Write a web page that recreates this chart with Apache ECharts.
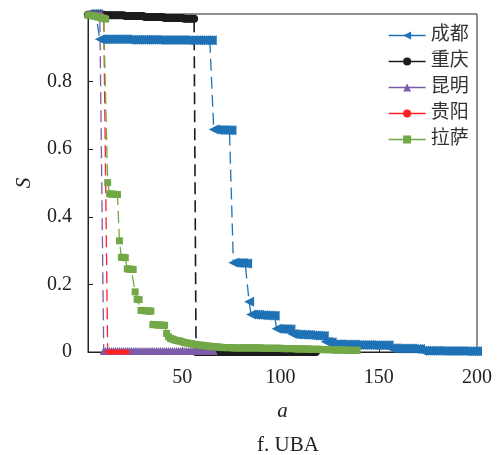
<!DOCTYPE html>
<html>
<head>
<meta charset="utf-8">
<script src="https://cdn.jsdelivr.net/npm/echarts@6/dist/echarts.min.js"></script>
<style>
  html, body { margin: 0; padding: 0; background: #fff; }
  #chart { width: 501px; height: 455px; }
</style>
</head>
<body>
<div id="chart"></div>
<script>
// Connectivity S of the largest component against attack step a (UBA strategy)
const cities = ['成都', '重庆', '昆明', '贵阳', '拉萨'];
const xTicks = [50, 100, 150, 200];
const yTicks = [0, 0.2, 0.4, 0.6, 0.8];

// each series is sampled at consecutive integer steps starting from its first step
const firstStep = 2;

const chengdu = [
  1, 1, 1, 1, 1, 1,
  0.925, 0.925, 0.925, 0.925, 0.925, 0.925, 0.925, 0.925, 0.925, 0.925, 0.925, 0.925, 0.925, 0.925, 0.925,
  0.924, 0.924, 0.924, 0.924, 0.924, 0.924, 0.924, 0.924, 0.924, 0.924, 0.924, 0.924, 0.924, 0.924, 0.924,
  0.923, 0.923, 0.923, 0.923, 0.923, 0.923, 0.923, 0.923, 0.923, 0.923, 0.923, 0.923, 0.923, 0.923,
  0.922, 0.922, 0.922, 0.922, 0.922, 0.922, 0.922, 0.922, 0.922, 0.922, 0.922, 0.922, 0.922, 0.922,
  0.658, 0.658, 0.657, 0.657, 0.657, 0.657, 0.657, 0.656, 0.656, 0.656,
  0.264, 0.264, 0.263, 0.263, 0.263, 0.263, 0.262, 0.262,
  0.149,
  0.111, 0.111, 0.110, 0.110, 0.110, 0.109, 0.109, 0.109, 0.108, 0.108, 0.108, 0.107, 0.107,
  0.069, 0.069, 0.068, 0.068, 0.068, 0.068, 0.067, 0.067,
  0.053, 0.053, 0.052, 0.052, 0.052, 0.051, 0.051, 0.051, 0.050, 0.050, 0.049, 0.049, 0.049, 0.048, 0.048, 0.047, 0.047,
  0.030, 0.030, 0.029, 0.029,
  0.023, 0.023, 0.023, 0.023, 0.023, 0.022, 0.022, 0.022, 0.022, 0.022, 0.022, 0.022, 0.021, 0.021, 0.021,
  0.021, 0.021, 0.021, 0.021, 0.021, 0.020, 0.020, 0.020, 0.020, 0.020, 0.020, 0.020, 0.020, 0.020,
  0.011, 0.011, 0.011, 0.011, 0.010, 0.010, 0.010, 0.010, 0.010, 0.010, 0.010, 0.010, 0.009, 0.009, 0.009, 0.009,
  0.004, 0.004, 0.004, 0.004, 0.004, 0.004, 0.004, 0.004, 0.004, 0.004, 0.003, 0.003, 0.003, 0.003, 0.003,
  0.003, 0.003, 0.003, 0.003, 0.003, 0.003, 0.003, 0.002, 0.002, 0.002, 0.002, 0.002, 0.002, 0.002
];

const chongqing = [
  0.998, 0.998, 0.998, 0.998, 0.998, 0.998, 0.998, 0.998, 0.998,
  0.996, 0.996, 0.996, 0.996, 0.996, 0.996, 0.996, 0.996, 0.996, 0.996,
  0.994, 0.994, 0.994, 0.994, 0.994, 0.994, 0.994, 0.994, 0.994, 0.994,
  0.991, 0.991, 0.991, 0.991, 0.991, 0.991, 0.991, 0.991, 0.991, 0.991,
  0.988, 0.988, 0.988, 0.988, 0.988, 0.988, 0.988, 0.988, 0.988, 0.988,
  0.986, 0.986, 0.986, 0.986, 0.986, 0.986,
  0, 0, 0, 0, 0, 0, 0, 0, 0, 0, 0, 0, 0, 0, 0, 0, 0, 0, 0, 0,
  0, 0, 0, 0, 0, 0, 0, 0, 0, 0, 0, 0, 0, 0, 0, 0, 0, 0, 0, 0,
  0, 0, 0, 0, 0, 0, 0, 0, 0, 0, 0, 0, 0, 0, 0, 0, 0, 0, 0, 0,
  0, 0
];

const kunming = [
  1, 1, 1, 1, 1, 1, 1, 1,
  0.003, 0.003, 0.003, 0.003, 0.003, 0.003, 0.003, 0.003, 0.003, 0.003,
  0.003, 0.003, 0.003, 0.003, 0.003, 0.003, 0.003, 0.003, 0.003, 0.003,
  0.003, 0.003, 0.003, 0.003, 0.003, 0.003, 0.003, 0.003, 0.003, 0.003,
  0.003, 0.003, 0.003, 0.003, 0.003, 0.003, 0.003, 0.003, 0.003, 0.003,
  0.003, 0.003, 0.003, 0.003, 0.003, 0.003, 0.003, 0.003, 0.003, 0.003,
  0.003, 0.003, 0.003, 0.003, 0.003, 0.003, 0.003
];

const guiyang = [
  0.995, 0.995, 0.994, 0.994, 0.993, 0.993, 0.992, 0.992, 0.991, 0.991,
  0, 0, 0, 0, 0, 0, 0, 0, 0, 0, 0
];

const lhasa = [
  0.997, 0.996, 0.995, 0.994, 0.993, 0.991, 0.990, 0.988, 0.987, 0.985,
  0.501,
  0.468, 0.467, 0.467, 0.466, 0.466,
  0.329,
  0.280, 0.280, 0.279,
  0.246, 0.245, 0.245, 0.244,
  0.178,
  0.156, 0.155,
  0.123, 0.123, 0.122, 0.122, 0.121, 0.121,
  0.081, 0.081, 0.080, 0.080, 0.080, 0.079, 0.079,
  0.055, 0.045, 0.040, 0.038, 0.036, 0.034, 0.033, 0.032, 0.030,
  0.028, 0.027, 0.026, 0.025, 0.024, 0.023, 0.022, 0.021, 0.020, 0.020,
  0.019, 0.018, 0.018, 0.017, 0.016, 0.016, 0.015, 0.015, 0.014, 0.014,
  0.013, 0.013, 0.013, 0.013, 0.013, 0.012, 0.012, 0.012, 0.012, 0.012,
  0.012, 0.012, 0.012, 0.012, 0.012, 0.012, 0.012, 0.012, 0.012, 0.012,
  0.011, 0.011, 0.011, 0.011, 0.011, 0.011, 0.011, 0.011, 0.011, 0.011,
  0.010, 0.010, 0.010, 0.010, 0.010, 0.010, 0.010,
  0.009, 0.009, 0.009, 0.009, 0.009, 0.009, 0.009,
  0.008, 0.008, 0.008, 0.008, 0.008, 0.008,
  0.007, 0.007, 0.007, 0.007, 0.007, 0.007,
  0.006, 0.006, 0.006, 0.006, 0.006, 0.006, 0.006,
  0.005, 0.005, 0.005, 0.005, 0.005, 0.005
];

const seriesValues = [chengdu, chongqing, kunming, guiyang, lhasa];
const colors = ['#1f72b5', '#1c1c1c', '#7b5ca8', '#ff2121', '#72a846'];
const symbols = ['triangle', 'circle', 'triangle', 'circle', 'rect'];
const symbolSizes = [10, 8, 8, 5, 7];
const symbolRotations = [90, 0, 0, 0, 0];

function toPairs(values) {
  return values.map((v, i) => [firstStep + i, v]);
}

const serif = '"Liberation Serif", "Times New Roman", serif';
const cjk = '"Liberation Serif", "Noto Sans CJK SC", serif';

const chart = echarts.init(document.getElementById('chart'), null, { renderer: 'canvas' });

chart.setOption({
  animation: false,
  backgroundColor: '#fff',
  grid: {
    left: 88, right: 24, top: 14, bottom: 103,
    show: true, borderColor: '#222', borderWidth: 1
  },
  title: {
    text: 'f. UBA',
    left: 283, top: 430, textAlign: 'center',
    textStyle: { fontFamily: serif, fontSize: 21, fontWeight: 'normal', color: '#222' }
  },
  legend: {
    orient: 'vertical',
    left: 383, top: 21,
    itemWidth: 37, itemHeight: 10, itemGap: 7,
    data: cities,
    lineStyle: { type: 'solid', width: 1.3 },
    textStyle: { fontFamily: cjk, fontSize: 19, color: '#333' }
  },
  xAxis: {
    type: 'value',
    min: 2, max: 200,
    name: 'a', nameLocation: 'middle', nameGap: 49,
    nameTextStyle: { fontFamily: serif, fontSize: 21, fontStyle: 'italic', color: '#222' },
    axisLine: { show: true, lineStyle: { color: '#222', width: 1 } },
    axisTick: { show: true, inside: true, length: 5, customValues: xTicks, lineStyle: { color: '#222' } },
    axisLabel: { customValues: xTicks, margin: 16, fontFamily: serif, fontSize: 20, color: '#222' },
    splitLine: { show: false }
  },
  yAxis: {
    type: 'value',
    min: 0, max: 1,
    name: 'S', nameLocation: 'middle', nameGap: 53, nameRotate: 90,
    nameTextStyle: { fontFamily: serif, fontSize: 21, fontStyle: 'italic', color: '#222' },
    axisLine: { show: true, lineStyle: { color: '#222', width: 1 } },
    axisTick: { show: true, inside: true, length: 5, customValues: yTicks, lineStyle: { color: '#222' } },
    axisLabel: { customValues: yTicks, margin: 16, fontFamily: serif, fontSize: 20, color: '#222' },
    splitLine: { show: false }
  },
  series: cities.map((name, k) => ({
    name: name,
    type: 'line',
    data: toPairs(seriesValues[k]),
    showSymbol: true,
    showAllSymbol: true,
    symbol: symbols[k],
    symbolSize: symbolSizes[k],
    symbolRotate: symbolRotations[k],
    color: colors[k],
    itemStyle: { color: colors[k], borderWidth: 0 },
    lineStyle: { color: colors[k], width: k === 1 ? 1.6 : 1.3, type: [12, 6] },
    emphasis: { disabled: true },
    clip: false
  }))
});
</script>
</body>
</html>
